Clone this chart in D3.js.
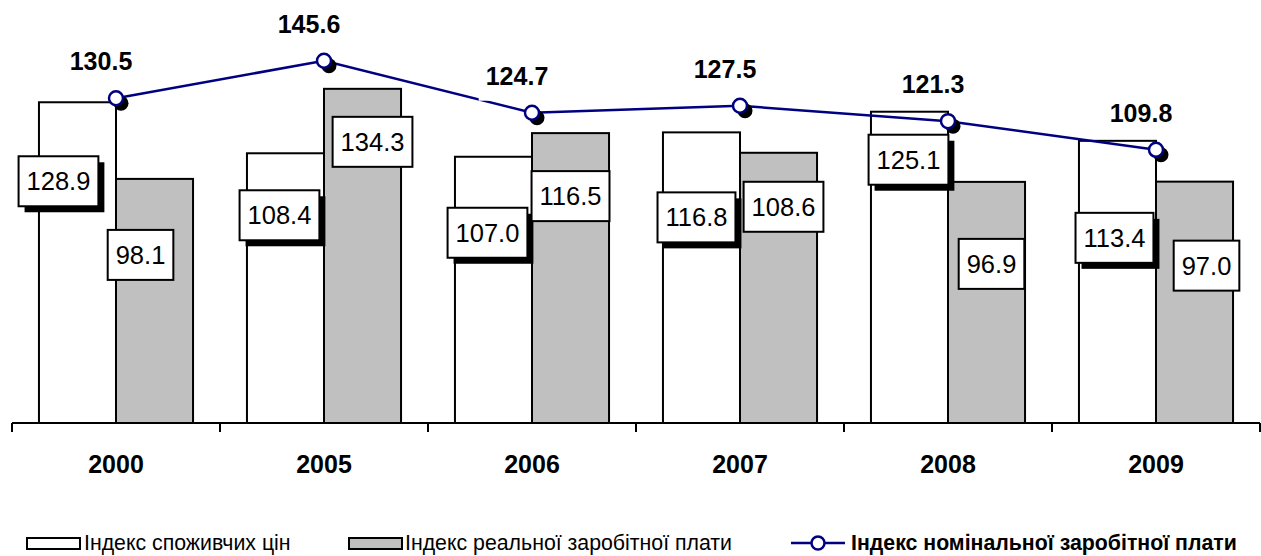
<!DOCTYPE html>
<html>
<head>
<meta charset="utf-8">
<script src="https://d3js.org/d3.v7.min.js"></script>
<style>
body { margin: 0; background: #fff; }
svg { font-family: "Liberation Sans", Arial, sans-serif; }
</style>
</head>
<body>
<script>

/* chart data */
var years = ["2000", "2005", "2006", "2007", "2008", "2009"];
var cpiIndex = [128.9, 108.4, 107.0, 116.8, 125.1, 113.4];
var realWage = [98.1, 134.3, 116.5, 108.6, 96.9, 97.0];
var nominalWage = [130.5, 145.6, 124.7, 127.5, 121.3, 109.8];

var seriesNames = ["Індекс споживчих цін", "Індекс реальної заробітної плати", "Індекс номінальної заробітної плати"];

/* hand-placed label nudges (dx, dy from bar top), as in the original */
var cpiNudge = [[-19, 79], [-6, 62], [-6, 76], [-5, 85], [-1, 48], [-3, 97]];
var realNudge = [[-14, 76], [10, 53], [0, 63], [5, 54], [5, 82], [12, 84]];

var width = 1261, height = 556;
var baseY = 423;

var svg = d3.select("body").append("svg")
  .attr("width", width)
  .attr("height", height);

var x0 = d3.scaleBand().domain(years).range([12, 1260]).padding(0);
var x1 = d3.scaleBand().domain(["cpi", "real"])
  .range([0, x0.bandwidth()]).paddingInner(0).paddingOuter(0.35);
var y = d3.scaleLinear().domain([0, 170]).range([baseY, 0]);

var rows = years.map(function(d, i) {
  return { year: d, cpi: cpiIndex[i], real: realWage[i], nom: nominalWage[i], i: i };
});

/* bars */
var groups = svg.selectAll("g.year").data(rows).enter().append("g")
  .attr("class", "year")
  .attr("transform", function(d) { return "translate(" + x0(d.year) + ",0)"; });

groups.append("rect")
  .attr("x", x1("cpi"))
  .attr("y", function(d) { return y(d.cpi); })
  .attr("width", x1.bandwidth())
  .attr("height", function(d) { return baseY - y(d.cpi); })
  .attr("fill", "#ffffff").attr("stroke", "#000").attr("stroke-width", 2);

groups.append("rect")
  .attr("x", x1("real"))
  .attr("y", function(d) { return y(d.real); })
  .attr("width", x1.bandwidth())
  .attr("height", function(d) { return baseY - y(d.real); })
  .attr("fill", "#c0c0c0").attr("stroke", "#000").attr("stroke-width", 2);

/* axis */
svg.append("line")
  .attr("x1", 12).attr("x2", 1260)
  .attr("y1", baseY).attr("y2", baseY)
  .attr("stroke", "#000").attr("stroke-width", 2);

var tickPos = years.map(function(d) { return x0(d); }).concat([x0(years[years.length - 1]) + x0.bandwidth()]);
svg.selectAll("line.tick").data(tickPos).enter().append("line")
  .attr("class", "tick")
  .attr("x1", function(d) { return d; }).attr("x2", function(d) { return d; })
  .attr("y1", baseY).attr("y2", baseY + 9)
  .attr("stroke", "#000").attr("stroke-width", 2);

svg.selectAll("text.yr").data(years).enter().append("text")
  .attr("class", "yr")
  .attr("x", function(d) { return x0(d) + x0.bandwidth() / 2; })
  .attr("y", 473)
  .attr("text-anchor", "middle")
  .attr("font-size", 25).attr("font-weight", "bold")
  .text(function(d) { return d; });

/* bar value labels */
function boxLabel(g, cx, cy, txt, shadow) {
  var t = g.append("text")
    .attr("x", cx).attr("y", cy + 9)
    .attr("text-anchor", "middle")
    .attr("font-size", 25.5)
    .text(txt);
  var w = t.node().getComputedTextLength() + 16;
  if (shadow) {
    g.insert("rect", "text")
      .attr("x", cx - w / 2 + 6).attr("y", cy - 25 + 6)
      .attr("width", w).attr("height", 50)
      .attr("fill", "#000");
  }
  g.insert("rect", "text")
    .attr("x", cx - w / 2).attr("y", cy - 25)
    .attr("width", w).attr("height", 50)
    .attr("fill", "#fff").attr("stroke", "#000").attr("stroke-width", 2);
}

rows.forEach(function(d) {
  var gc = svg.append("g");
  boxLabel(gc, x0(d.year) + x1("cpi") + x1.bandwidth() / 2 + cpiNudge[d.i][0],
    y(d.cpi) + cpiNudge[d.i][1], d.cpi.toFixed(1), true);
  var gr = svg.append("g");
  boxLabel(gr, x0(d.year) + x1("real") + x1.bandwidth() / 2 + realNudge[d.i][0],
    y(d.real) + realNudge[d.i][1], d.real.toFixed(1), false);
});

/* nominal wage line */
var line = d3.line()
  .x(function(d) { return x0(d.year) + x0.bandwidth() / 2; })
  .y(function(d) { return y(d.nom); });

svg.append("path")
  .datum(rows)
  .attr("d", line)
  .attr("fill", "none")
  .attr("stroke", "#000080")
  .attr("stroke-width", 2.5);

// top labels sit on white boxes (they clip the line a bit near 2006, like the original)
var nomLab = svg.selectAll("g.nom").data(rows).enter().append("g").attr("class", "nom");
nomLab.each(function(d) {
  var g = d3.select(this);
  var cx = x0(d.year) + x0.bandwidth() / 2 - 15;
  var by = y(d.nom) - 28;
  var t = g.append("text")
    .attr("x", cx).attr("y", by)
    .attr("text-anchor", "middle")
    .attr("font-size", 25).attr("font-weight", "bold")
    .text(d.nom.toFixed(1));
  var w = t.node().getComputedTextLength() + 14;
  g.insert("rect", "text")
    .attr("x", cx - w / 2).attr("y", by - 25)
    .attr("width", w).attr("height", 41)
    .attr("fill", "#fff");
});

svg.selectAll("circle.shadow").data(rows).enter().append("circle")
  .attr("class", "shadow")
  .attr("cx", function(d) { return x0(d.year) + x0.bandwidth() / 2 + 5; })
  .attr("cy", function(d) { return y(d.nom) + 5; })
  .attr("r", 7.5)
  .attr("fill", "#000");

svg.selectAll("circle.pt").data(rows).enter().append("circle")
  .attr("class", "pt")
  .attr("cx", function(d) { return x0(d.year) + x0.bandwidth() / 2; })
  .attr("cy", function(d) { return y(d.nom); })
  .attr("r", 7)
  .attr("fill", "#fff")
  .attr("stroke", "#000080")
  .attr("stroke-width", 2.5);

/* legend */
var legY = 543;
var leg = svg.append("g").attr("font-size", 21.3);

leg.append("rect").attr("x", 27).attr("y", legY - 5).attr("width", 53).attr("height", 11)
  .attr("fill", "#fff").attr("stroke", "#000").attr("stroke-width", 2);
leg.append("text").attr("x", 84).attr("y", legY + 7).text(seriesNames[0]);

leg.append("rect").attr("x", 349).attr("y", legY - 5).attr("width", 53).attr("height", 11)
  .attr("fill", "#c0c0c0").attr("stroke", "#000").attr("stroke-width", 2);
leg.append("text").attr("x", 405).attr("y", legY + 7).text(seriesNames[1]);

leg.append("line").attr("x1", 791).attr("x2", 845).attr("y1", legY).attr("y2", legY)
  .attr("stroke", "#000080").attr("stroke-width", 2.5);
leg.append("circle").attr("cx", 818).attr("cy", legY).attr("r", 6.5)
  .attr("fill", "#fff").attr("stroke", "#000080").attr("stroke-width", 2.5);
leg.append("text").attr("x", 851).attr("y", legY + 7).attr("font-weight", "bold").text(seriesNames[2]);

</script>
</body>
</html>
